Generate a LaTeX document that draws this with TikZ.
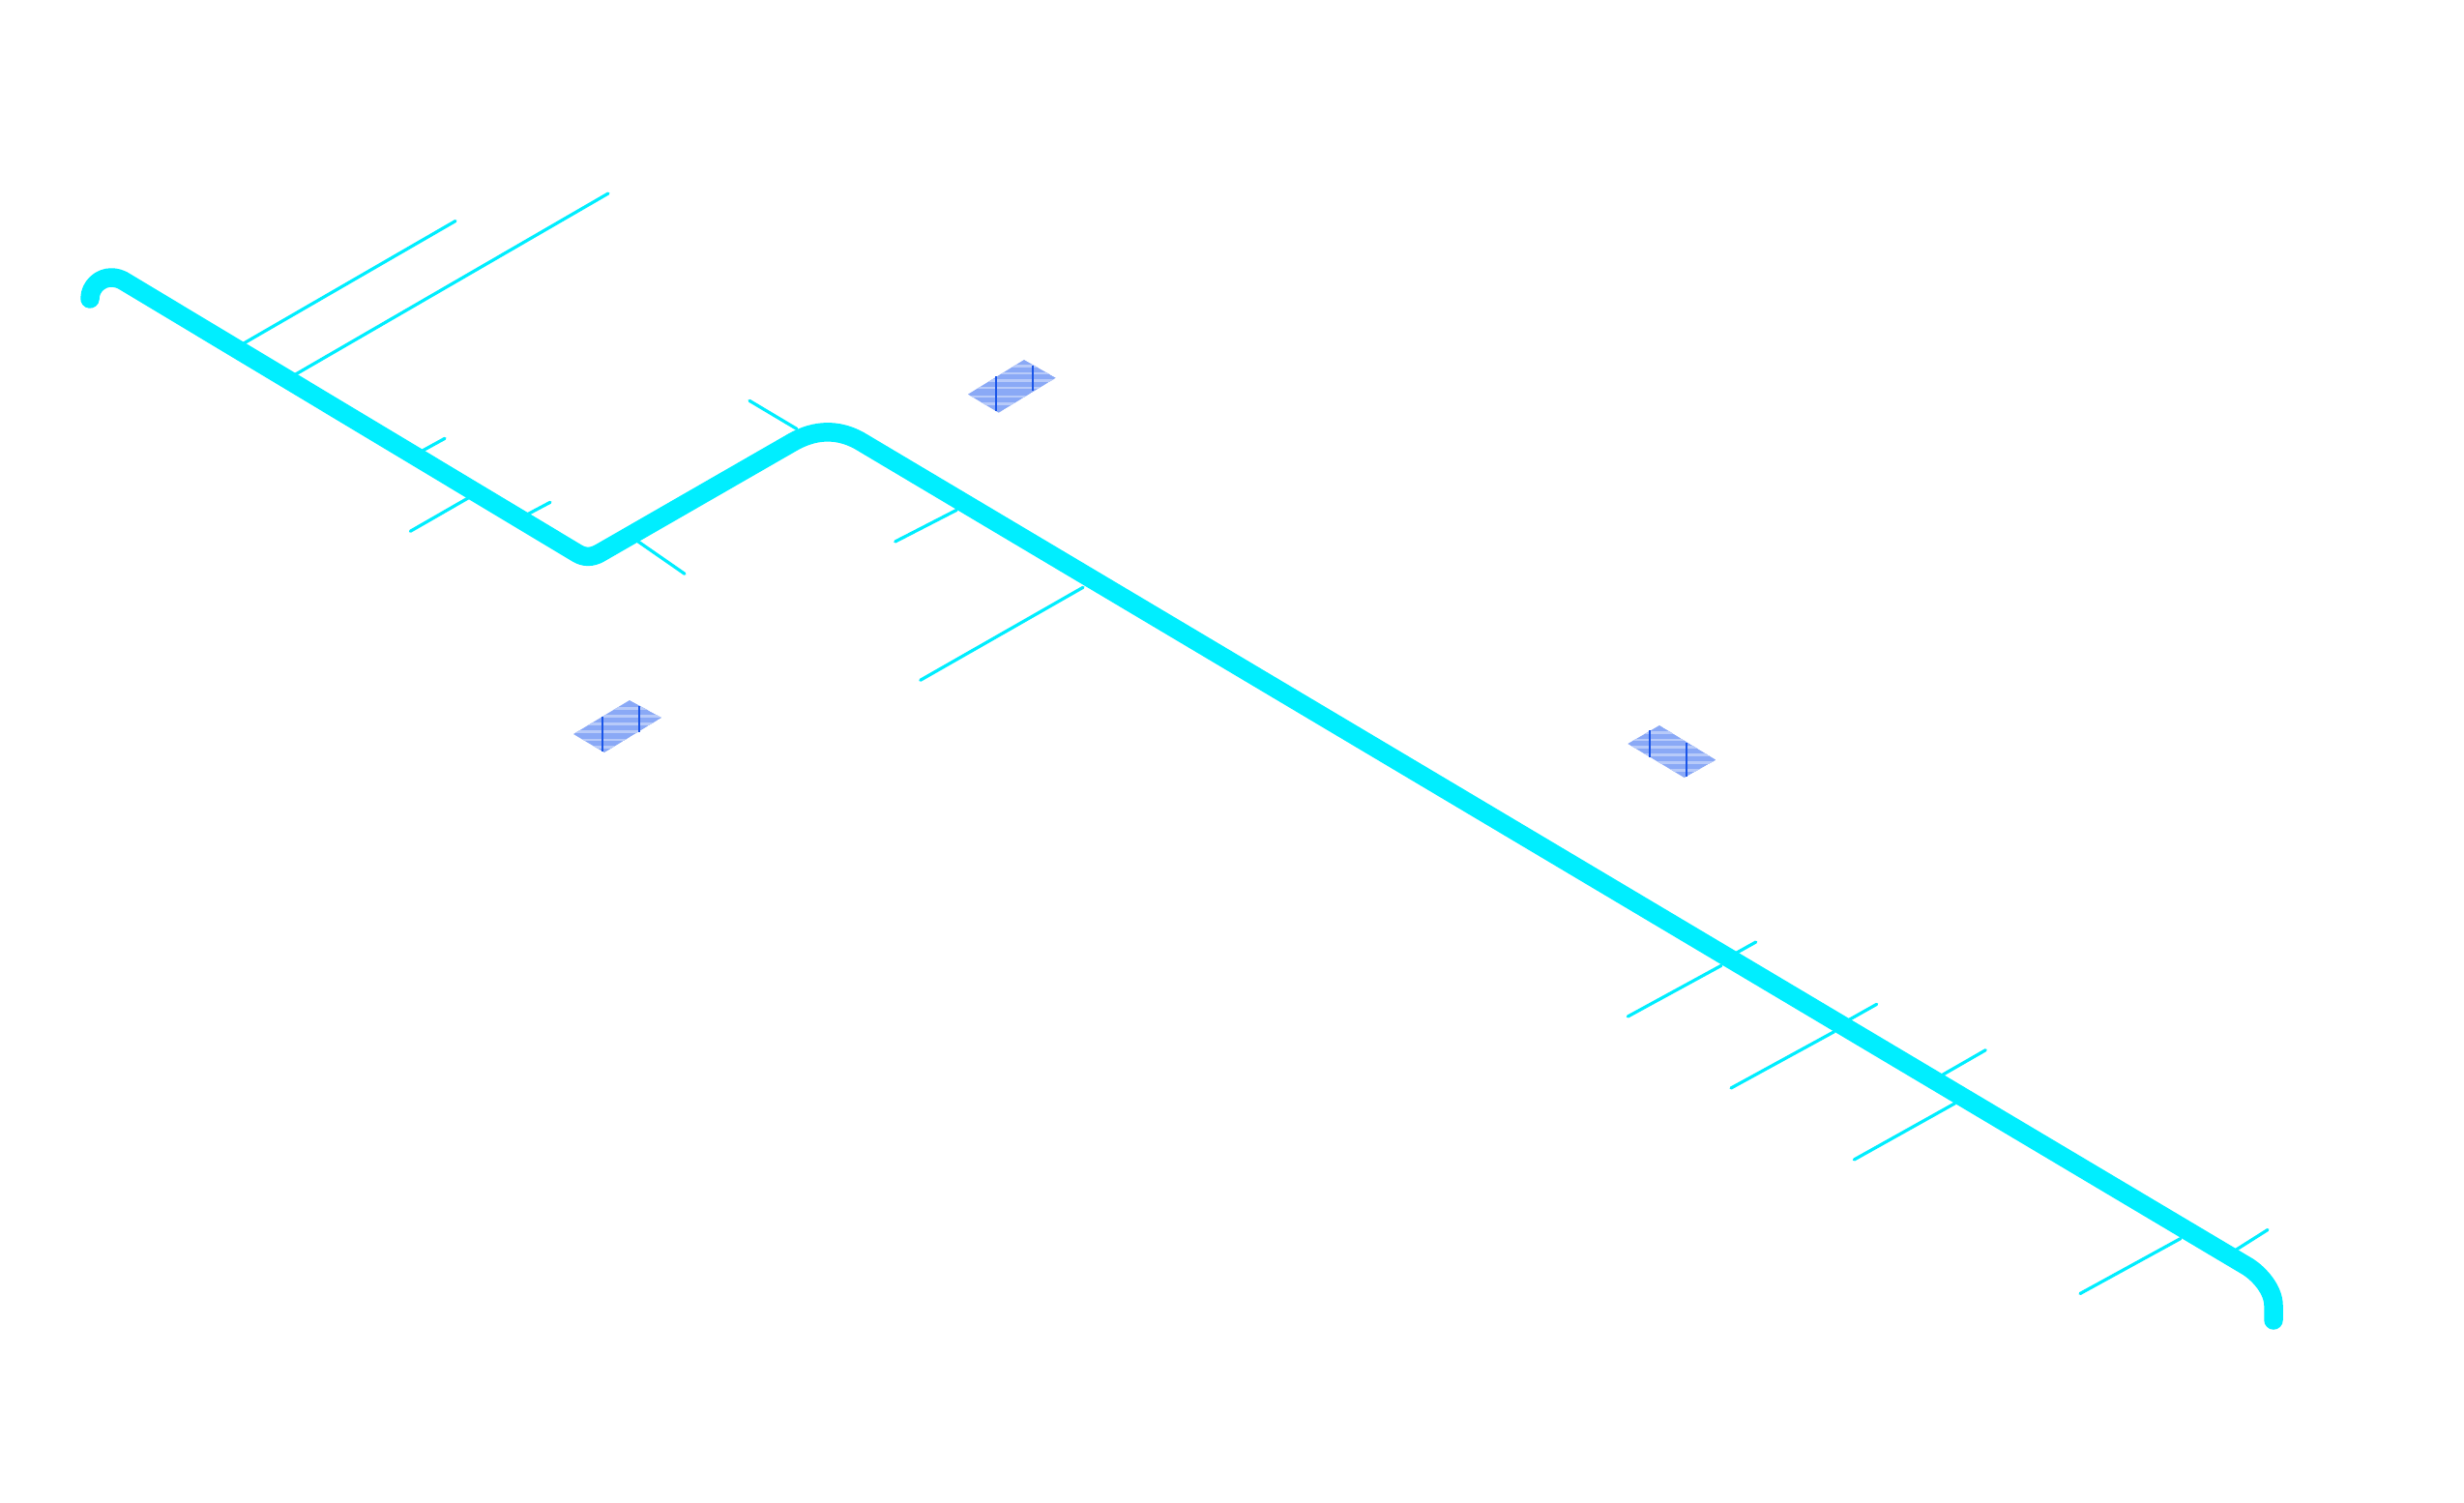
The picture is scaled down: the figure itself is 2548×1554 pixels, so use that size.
\documentclass[tikz,border=0pt]{standalone}
\definecolor{pipecyan}{HTML}{00EEFF}
\definecolor{patchfill}{HTML}{8AA9F6}
\definecolor{patchstripe}{HTML}{B7CAF9}
\definecolor{patchline}{HTML}{1A55E8}
\tikzset{
  pipe/.style={draw=pipecyan,line width=19.5pt,line cap=round,line join=round},
  branch/.style={draw=pipecyan,line width=3.2pt,line cap=round},
  stripe/.style={draw=patchstripe,line width=2.5pt},
  tick/.style={draw=patchline,line width=2pt},
}
\newcommand{\patchshape}[9]{%
  \begin{scope}
    \clip #1 -- #2 -- #3 -- #4 -- cycle;
    \fill[patchfill] #1 -- #2 -- #3 -- #4 -- cycle;
    \foreach \yy in {#5}{\draw[stripe] (0,\yy) -- (2548,\yy);}
  \end{scope}
  \draw[tick] #6 -- #7;
  \draw[tick] #8 -- #9;
}
\begin{document}
\begin{tikzpicture}[x=1pt,y=-1pt]
\useasboundingbox (0,0) rectangle (2548,1554);
\fill[white] (0,0) rectangle (2548,1554);
% branches
\draw[branch] (471,228.5) -- (252,355);
\draw[branch] (629,200) -- (304,388);
\draw[branch] (460,453.3) -- (436,466.5);
\draw[branch] (484,515) -- (424.3,549.3);
\draw[branch] (569,519.3) -- (546,531.5);
\draw[branch] (775,414.3) -- (824,443.5);
\draw[branch] (660,560) -- (708,593.3);
\draw[branch] (989.3,527.3) -- (925.7,560);
\draw[branch] (1120,607.3) -- (951.7,703.3);
\draw[branch] (1815.7,974) -- (1796,985);
\draw[branch] (1780,998.3) -- (1683.3,1051);
\draw[branch] (1940.7,1038.3) -- (1911,1055);
\draw[branch] (1896.7,1066.7) -- (1790,1125);
\draw[branch] (2053.3,1085.7) -- (2007,1112.3);
\draw[branch] (2021.7,1140.7) -- (1917.3,1199);
\draw[branch] (2345,1271.5) -- (2311,1293);
\draw[branch] (2255,1280.5) -- (2151,1337.5);
% main pipe
\draw[pipe] (93,309) .. controls (93,296) and (104,287) .. (115,287)
  .. controls (120,287) and (124,288.5) .. (127,290)
  -- (596.7,572) .. controls (604,576.5) and (612,576.5) .. (620,572)
  -- (820,457) .. controls (843,444) and (866,443.5) .. (888,455.3)
  -- (2325,1310) .. controls (2335.7,1317) and (2351,1333) .. (2351,1350)
  -- (2351,1365);
% patches
\patchshape{(593,759)}{(651,724)}{(684,742)}{(625,778)}{732.3,740.7,748.3,756.7,765,772.7}{(623.3,741)}{(623.3,777)}{(661,730)}{(661,757)}
\patchshape{(1001,407.7)}{(1059,372)}{(1091.7,390.7)}{(1032.7,426.7)}{378.3,386,393.3,401,410,417.7}{(1030.3,389)}{(1030.3,425)}{(1068.3,377.7)}{(1068.3,404.3)}
\patchshape{(1683.3,769)}{(1716,750)}{(1774.3,785.7)}{(1741.7,804)}{757.7,765,772.7,780.7,788.3,796.7}{(1706.3,755)}{(1706.3,782.7)}{(1744.3,768.3)}{(1744.3,803.3)}
\end{tikzpicture}
\end{document}
